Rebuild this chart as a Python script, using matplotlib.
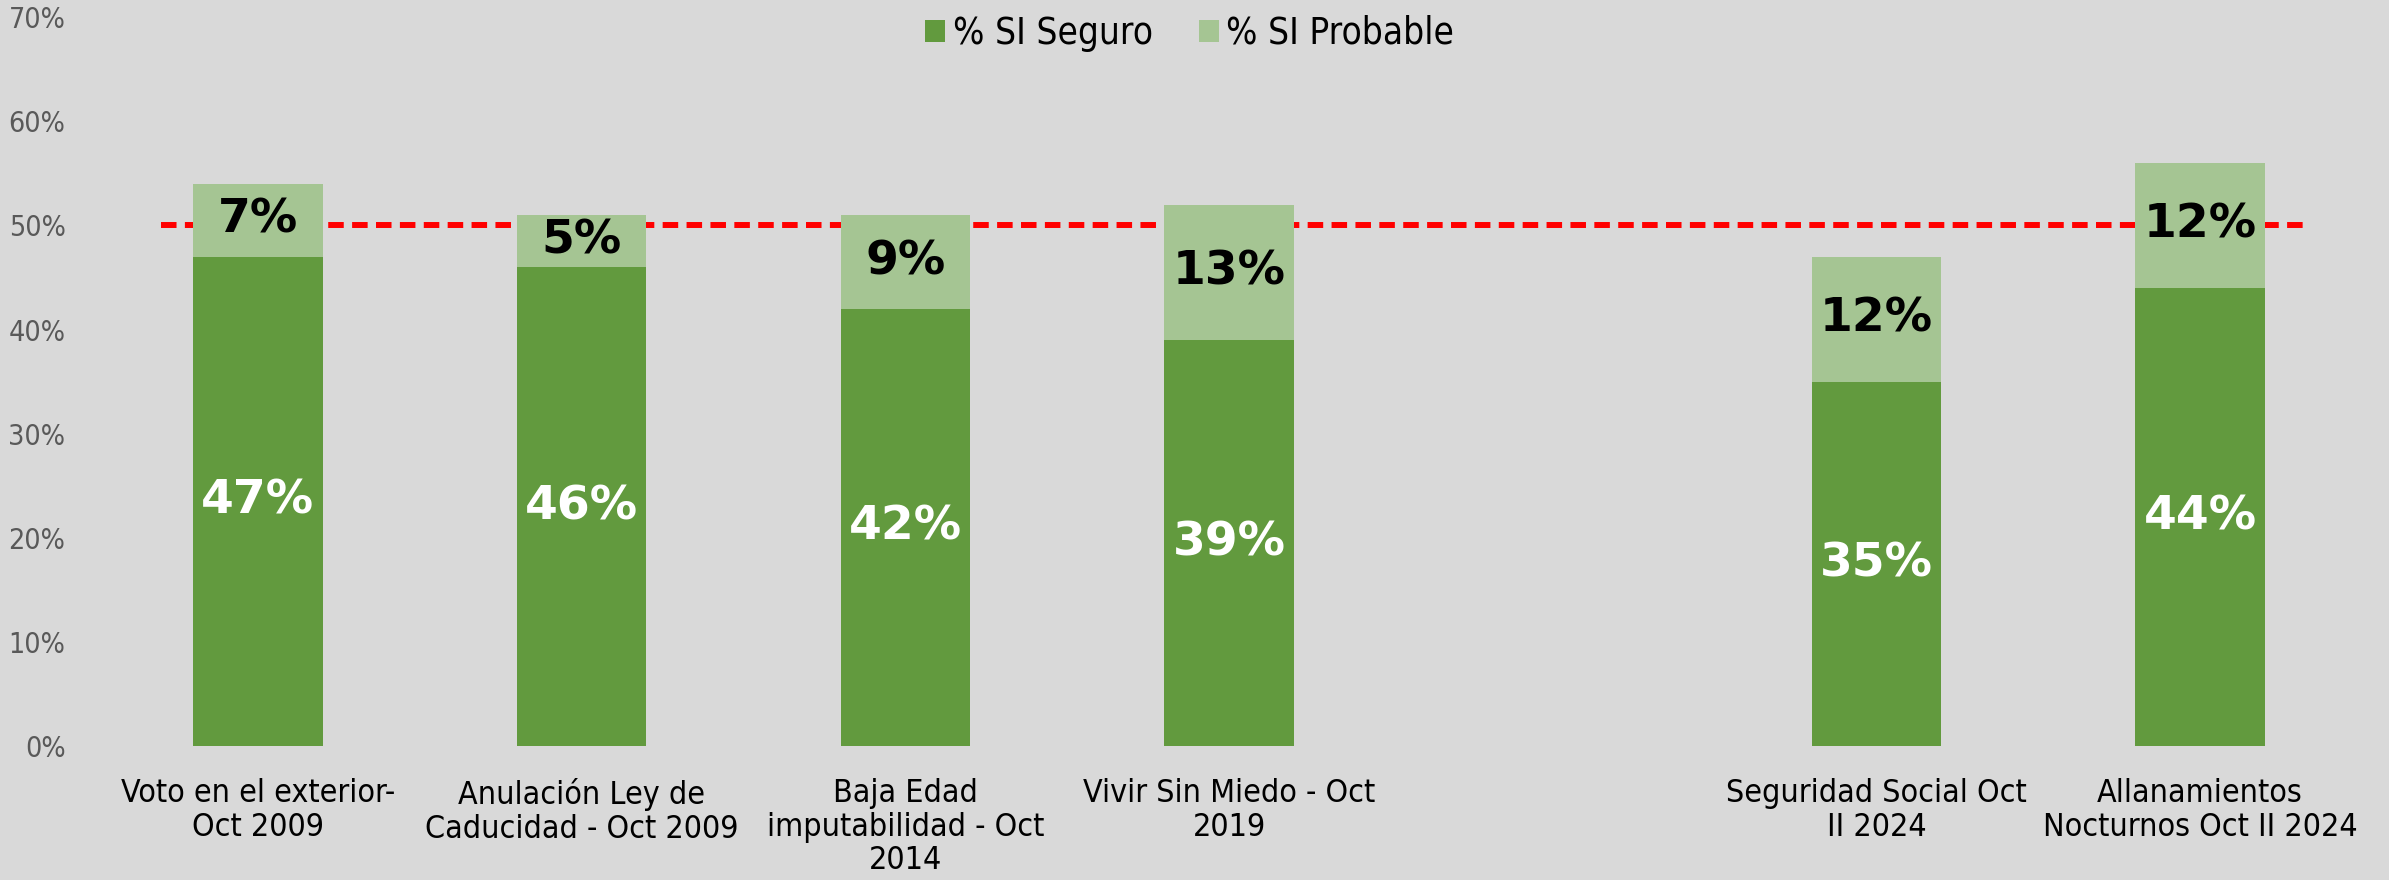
import matplotlib.pyplot as plt
import matplotlib.font_manager as fm
import numpy as np
from matplotlib.ticker import PercentFormatter

# data (fractions); slot 5 is an empty gap
categories = ["Voto en el exterior-\nOct 2009",
              "Anulación Ley de\nCaducidad - Oct 2009",
              "Baja Edad\nimputabilidad - Oct\n2014",
              "Vivir Sin Miedo - Oct\n2019",
              "",
              "Seguridad Social Oct\nII 2024",
              "Allanamientos\nNocturnos Oct II 2024"]
seguro = [0.47, 0.46, 0.42, 0.39, np.nan, 0.35, 0.44]
probable = [0.07, 0.05, 0.09, 0.13, np.nan, 0.12, 0.12]
threshold = 0.50

bg = "#d9d9d9"
dark = "#629a3e"
light = "#a5c593"

# look for a condensed face for the axis texts
def pick(name, stretch=None):
    for f in fm.fontManager.ttflist:
        if f.name == name and f.style == "normal" and f.weight in (400, "normal", "regular"):
            if stretch is None or f.stretch == stretch:
                return f.fname
    return None

path = pick("DejaVu Sans", "condensed")
scale = 1.0
if path is None:
    path = pick("Liberation Sans Narrow")
    scale = 1.12
if path is None:
    txt = fm.FontProperties(family="DejaVu Sans")
    scale = 0.92
else:
    txt = fm.FontProperties(fname=path)

def tp(size):
    f = txt.copy()
    f.set_size(size * scale)
    return f

fig = plt.figure(figsize=(23.89, 8.8), dpi=100, facecolor=bg)
ax = fig.add_axes([0.0402, 0.152, 0.9485, 0.8287], facecolor=bg)

x = np.arange(len(categories))
s = np.nan_to_num(seguro)
p = np.nan_to_num(probable)
b1 = ax.bar(x, s, width=0.40, color=dark, label="% SI Seguro", zorder=3)
b2 = ax.bar(x, p, width=0.40, bottom=s, color=light, label="% SI Probable", zorder=3)

# red reference line at 50%
ax.plot([-0.30, 6.34], [threshold, threshold], color="#ff0000", lw=4.3,
        dashes=(2.6, 1.4), zorder=2)

for i in range(len(categories)):
    if np.isnan(seguro[i]):
        continue
    ax.text(x[i], seguro[i] / 2, f"{seguro[i]*100:.0f}%", ha="center", va="center",
            color="white", fontsize=34, fontweight="bold", family="DejaVu Sans", zorder=4)
    ax.text(x[i], seguro[i] + probable[i] / 2, f"{probable[i]*100:.0f}%", ha="center",
            va="center", color="black", fontsize=34, fontweight="bold",
            family="DejaVu Sans", zorder=4)

ax.set_xlim(-0.5, 6.5)
ax.set_ylim(0, 0.70)
ax.set_yticks(np.arange(0, 0.71, 0.1))
ax.yaxis.set_major_formatter(PercentFormatter(1.0, decimals=0))
ax.set_xticks(x)
ax.set_xticklabels(categories, fontproperties=tp(23), color="black",
                   linespacing=1.1, va="top")
for t in ax.get_yticklabels():
    t.set_fontproperties(tp(20.5))
    t.set_color("#595959")
ax.tick_params(axis="both", length=0)
ax.tick_params(axis="x", pad=23)
ax.tick_params(axis="y", pad=22)
for sp in ax.spines.values():
    sp.set_visible(False)

leg = fig.legend(handles=[b1, b2], loc="center", bbox_to_anchor=(0.498, 0.962),
                 ncol=2, frameon=False, prop=tp(26.5),
                 handlelength=0.55, handleheight=0.55, handletextpad=0.2, columnspacing=1.25)

fig.savefig("out.png", dpi=100, facecolor=bg)
